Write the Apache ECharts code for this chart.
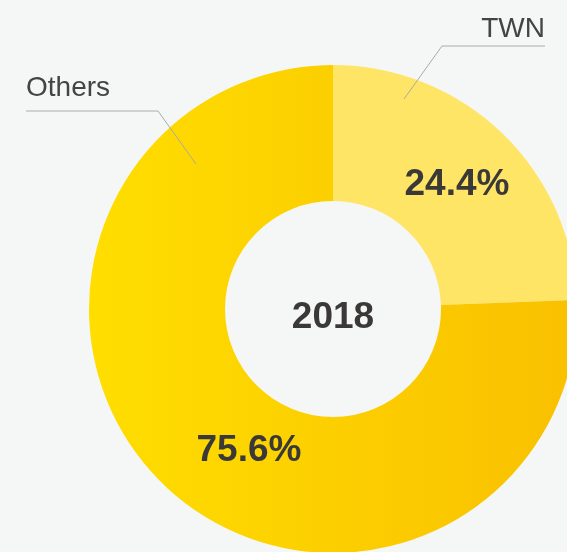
<!DOCTYPE html>
<html>
<head>
<meta charset="utf-8">
<script src="https://cdn.jsdelivr.net/npm/echarts@6/dist/echarts.min.js"></script>
<style>
html,body{margin:0;padding:0;background:#f5f7f7;}
#chart{width:567px;height:552px;}
</style>
</head>
<body>
<div id="chart"></div>
<script>
// ---- data ----
const categories = ['TWN', 'Others'];
const shares = [24.4, 75.6];
const centerText = '2018';

// ---- layout/style constants ----
const CX = 333, CY = 309, R_OUT = 244, R_IN = 108;
const colors = [
  '#FFE566',
  {type:'linear', x:0, y:0, x2:1, y2:0, colorStops:[{offset:0,color:'#FFDE00'},{offset:1,color:'#F9C000'}]}
];
// name labels: position relative to pie center
const nameLabelPos = [
  {x: CX + 212, y: CY - 280, align: 'right', line: [[CX + 71, CY - 210], [CX + 109, CY - 263], [CX + 212, CY - 263]]},
  {x: CX - 307, y: CY - 221, align: 'left',  line: [[CX - 137, CY - 145], [CX - 175, CY - 198], [CX - 307, CY - 198]]}
];
const pctLabelPos = [
  {x: CX + 124, y: CY - 124},
  {x: CX - 84,  y: CY + 142}
];

const basePie = {
  type: 'pie',
  center: [CX, CY],
  radius: [R_IN, R_OUT],
  startAngle: 90,
  clockwise: true,
  silent: true
};

const chart = echarts.init(document.getElementById('chart'));
chart.setOption({
  backgroundColor: '#f5f7f7',
  animation: false,
  series: [
    Object.assign({}, basePie, {
      z: 1,
      data: categories.map((c, i) => ({name: c, value: shares[i], itemStyle: {color: colors[i]}})),
      label: {show: false},
      labelLine: {show: false}
    }),
    Object.assign({}, basePie, {
      z: 2,
      data: categories.map((c, i) => ({name: c, value: shares[i]})),
      itemStyle: {color: 'rgba(0,0,0,0)'},
      label: {
        show: true,
        position: 'outside',
        formatter: '{b}',
        color: '#444444',
        fontFamily: 'Liberation Sans',
        fontSize: 28,
        overflow: 'none',
        width: 200
      },
      labelLine: {show: true, showAbove: true, lineStyle: {color: '#aaaaaa', width: 1}},
      labelLayout: function (p) {
        const L = nameLabelPos[p.dataIndex];
        return {x: L.x, y: L.y, align: L.align, verticalAlign: 'middle', labelLinePoints: L.line};
      }
    }),
    Object.assign({}, basePie, {
      z: 3,
      data: categories.map((c, i) => ({name: c, value: shares[i]})),
      itemStyle: {color: 'rgba(0,0,0,0)'},
      label: {
        show: true,
        position: 'inside',
        formatter: function (p) { return p.value.toFixed(1) + '%'; },
        color: '#3b3838',
        fontFamily: 'Liberation Sans',
        fontWeight: 'bold',
        fontSize: 37
      },
      labelLine: {show: false},
      labelLayout: function (p) {
        const L = pctLabelPos[p.dataIndex];
        return {x: L.x, y: L.y, align: 'center', verticalAlign: 'middle'};
      }
    })
  ],
  graphic: [{
    type: 'text',
    x: CX, y: CY + 9,
    style: {
      text: centerText,
      fill: '#3b3838',
      font: 'bold 37px "Liberation Sans"',
      textAlign: 'center',
      textVerticalAlign: 'middle'
    }
  }]
});
</script>
</body>
</html>
